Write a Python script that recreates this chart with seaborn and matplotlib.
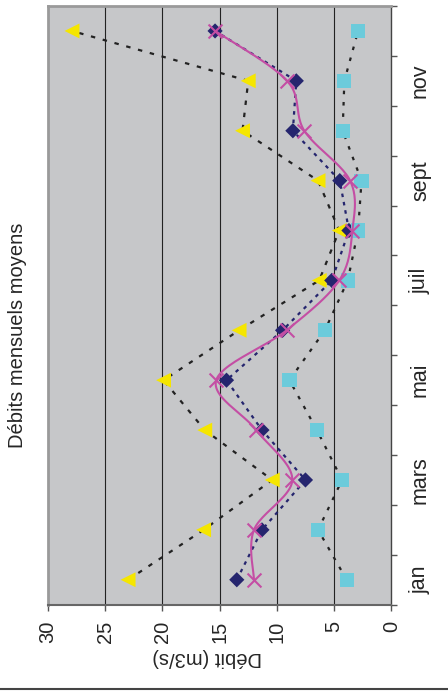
import numpy as np
import seaborn as sns
import matplotlib
matplotlib.use("Agg")
import matplotlib.pyplot as plt
from matplotlib.lines import Line2D

# data (m3/s), jan -> déc
mois = ["jan", "févr", "mars", "avr", "mai", "juin", "juil", "août", "sept", "oct", "nov", "déc"]
mois_affiches = ["jan", "mars", "mai", "juil", "sept", "nov"]
debit_max = [23.0, 16.4, 10.4, 16.3, 19.9, 13.3, 6.3, 4.55, 6.4, 13.0, 12.5, 27.9]
debit_a = [13.5, 11.3, 7.5, 11.3, 14.4, 9.5, 5.2, 3.7, 4.5, 8.6, 8.3, 15.4]
debit_min = [3.9, 6.4, 4.3, 6.5, 8.9, 5.8, 3.8, 2.9, 2.6, 4.25, 4.1, 2.9]
debit_moy = [12.0, 12.0, 8.65, 11.8, 15.3, 9.15, 4.55, 3.4, 3.6, 7.6, 9.1, 15.4]
graduations = [0, 5, 10, 15, 20, 25, 30]

sns.set_style("white")
plt.rcParams["font.family"] = ["Liberation Sans", "DejaVu Sans"]

idx = np.arange(len(mois))


def lisse(xv, yv, n=24):
    # Catmull-Rom pass through the points, like Excel's smoothed line
    p = np.column_stack([xv, yv]).astype(float)
    p = np.vstack([p[0], p, p[-1]])
    t = np.linspace(0, 1, n, endpoint=False)[:, None]
    out = []
    for i in range(1, len(p) - 2):
        p0, p1, p2, p3 = p[i - 1], p[i], p[i + 1], p[i + 2]
        out.append(0.5 * (2 * p1 + (-p0 + p2) * t + (2 * p0 - 5 * p1 + 4 * p2 - p3) * t ** 2
                          + (-p0 + 3 * p1 - 3 * p2 + p3) * t ** 3))
    out.append(p[-2:-1])
    return np.vstack(out)


fig = plt.figure(figsize=(4.48, 6.91), dpi=100)
ax = fig.add_axes([0.1071, 0.1249, 0.7663, 0.8664])
ax.set_facecolor("#c6c7c9")

jaune, marine, cyan, magenta = "#f5e600", "#25256e", "#6ccbdb", "#c44ea4"

# series 1 : yellow triangles, black dotted
sns.lineplot(x=debit_max, y=idx, sort=False, estimator=None, ax=ax, color="#222222",
             linestyle=(0, (2, 3.5)), lw=1.6, zorder=3)
sns.scatterplot(x=debit_max, y=idx, ax=ax, marker="<", s=115, color=jaune, edgecolor="none", zorder=4)
# series 2 : navy diamonds, navy dotted
sns.lineplot(x=debit_a, y=idx, sort=False, estimator=None, ax=ax, color=marine,
             linestyle=(0, (1.6, 2.2)), lw=1.6, zorder=5)
sns.scatterplot(x=debit_a, y=idx, ax=ax, marker="D", s=60, color=marine, edgecolor="none", zorder=6)
# series 3 : cyan squares, black dotted
sns.lineplot(x=debit_min, y=idx, sort=False, estimator=None, ax=ax, color="#222222",
             linestyle=(0, (1.6, 3.5)), lw=1.6, zorder=7)
sns.scatterplot(x=debit_min, y=idx, ax=ax, marker="s", s=105, color=cyan, edgecolor="none", zorder=8)
# series 4 : magenta crosses, smoothed solid line
courbe = lisse(debit_moy, idx)
sns.lineplot(x=courbe[:, 0], y=courbe[:, 1], sort=False, estimator=None, ax=ax, color=magenta,
             lw=1.5, zorder=9)
sns.scatterplot(x=debit_moy, y=idx, ax=ax, marker="x", s=100, color=magenta, linewidth=1.5, zorder=10)

ax.set_xlim(30, 0)
ax.set_ylim(-0.5, 11.5)
ax.set_xticks(graduations)
ax.set_xticklabels([str(g) for g in graduations], rotation=90, fontsize=14.5)
ax.tick_params(axis="x", direction="out", length=4.3, width=1, color="#555555", pad=7, bottom=True)
for g in graduations[1:-1]:
    ax.axvline(g, color="#222222", lw=0.8, zorder=1)

ax.yaxis.tick_right()
ax.set_yticks(np.arange(-0.5, 12, 1))
ax.set_yticklabels([])
ax.set_yticks([mois.index(m) for m in mois_affiches], minor=True)
ax.set_yticklabels(mois_affiches, minor=True, rotation=90, va="center", fontsize=15.5)
ax.tick_params(axis="y", which="major", direction="out", length=4.3, width=1, color="#555555", right=True)
ax.tick_params(axis="y", which="minor", length=0, pad=13.5)
ax.set_xlabel("")
ax.set_ylabel("")

for side in ["left", "top"]:
    ax.spines[side].set_color("#9a9a9a")
    ax.spines[side].set_linewidth(2)
ax.spines["bottom"].set_color("#666666")
ax.spines["bottom"].set_linewidth(1.5)
ax.spines["right"].set_color("#444444")
ax.spines["right"].set_linewidth(1)

fig.text(0.04, 0.515, "Débits mensuels moyens", rotation=90, ha="center", va="center", fontsize=14.5)
fig.text(0.462, 0.048, "Débit (m3/s)", rotation=180, ha="center", va="center", fontsize=14.5)
fig.add_artist(Line2D([0, 1], [0.003, 0.003], color="#444444", lw=1.5, transform=fig.transFigure))

fig.savefig("out.png", dpi=100)
